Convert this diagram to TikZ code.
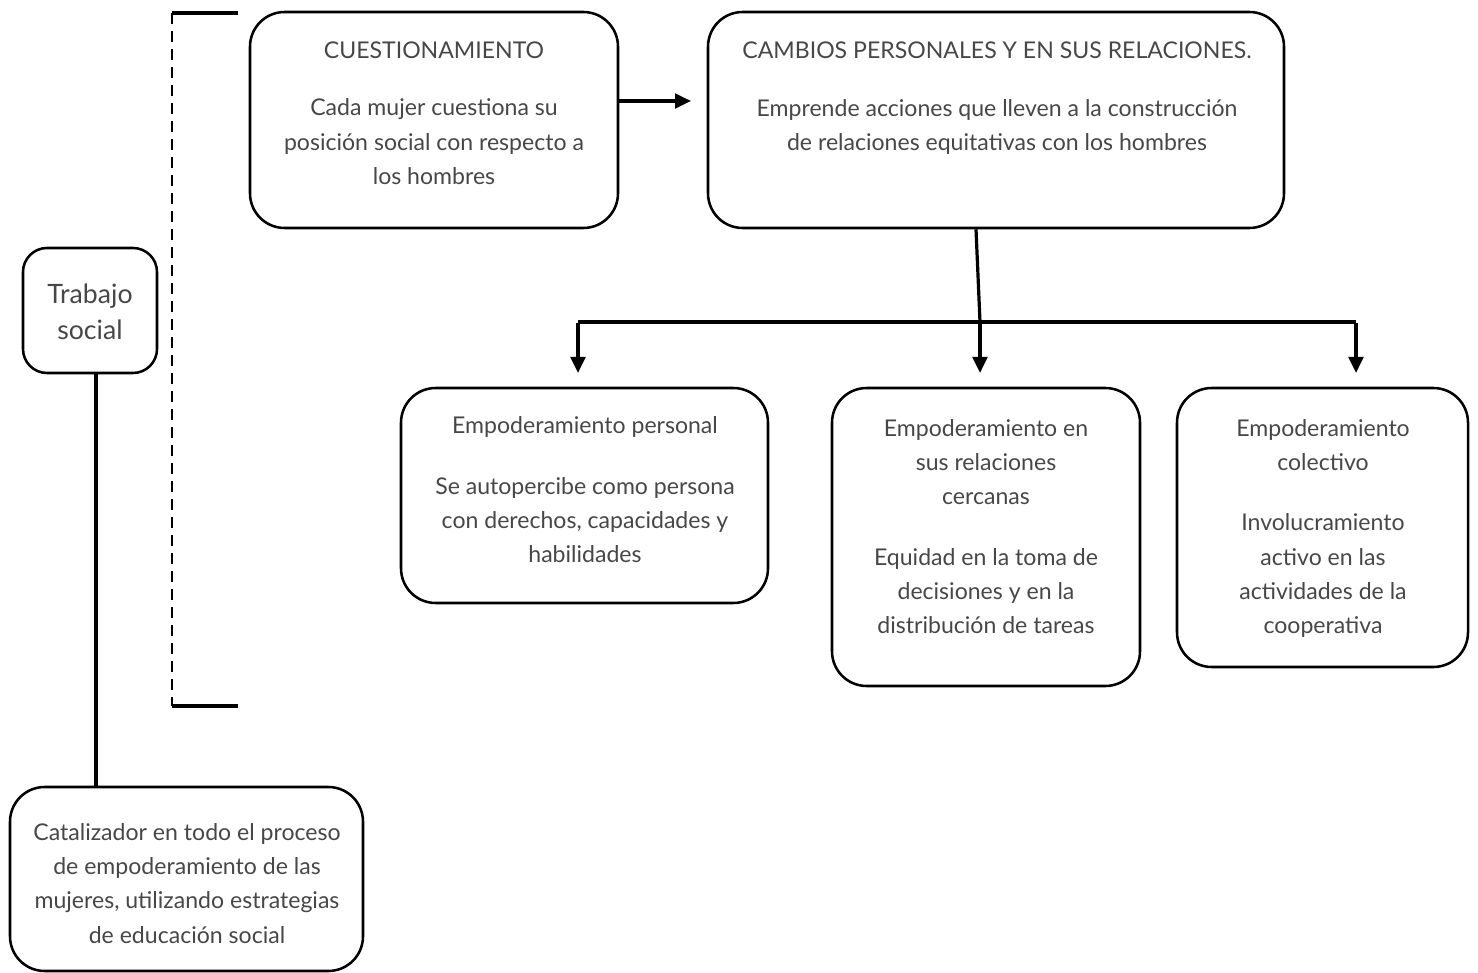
\documentclass[tikz,border=0pt]{standalone}
\usepackage{fontspec}
\setmainfont{Lato}
\usetikzlibrary{arrows.meta}
\begin{document}
\begin{tikzpicture}[x=0.75pt,y=-0.75pt,
  box/.style={draw=black,line width=1.9pt,rounded corners=26pt,inner sep=0pt},
  txt/.style={text=black!72,font=\fontsize{17.3pt}{25.7pt}\selectfont,align=center,inner sep=0pt,anchor=north},
  conn/.style={line width=2.4pt},
  arr/.style={line width=2.4pt,-{Triangle[length=12pt,width=11pt]}},
  ]
\useasboundingbox (0,0) rectangle (1478,973);
% boxes
\node[box,minimum width=368*0.75pt,minimum height=216*0.75pt] (cues) at (434,120) {};
\node[box,minimum width=576*0.75pt,minimum height=216*0.75pt] (camb) at (996,120) {};
\node[box,minimum width=134*0.75pt,minimum height=125*0.75pt,rounded corners=18pt] (ts) at (90,310.5) {};
\node[box,minimum width=353*0.75pt,minimum height=184*0.75pt] (cat) at (186.5,879) {};
\node[box,minimum width=367*0.75pt,minimum height=215*0.75pt] (ep) at (584.5,495.5) {};
\node[box,minimum width=308*0.75pt,minimum height=298*0.75pt] (er) at (986,537) {};
\node[box,minimum width=291*0.75pt,minimum height=279*0.75pt] (ec) at (1322.5,527.5) {};
% texts
\node[txt] (t1) at (434,42) {CUESTIONAMIENTO\\[17pt]Cada mujer cuestiona su\\posición social con respecto a\\los hombres};
\node[txt] (t2) at (997,42) {CAMBIOS PERSONALES Y EN SUS RELACIONES.\\[17.5pt]Emprende acciones que lleven a la construcción\\de relaciones equitativas con los hombres};
\node[txt,font=\fontsize{20pt}{27pt}\selectfont] (t3) at (90,284) {Trabajo\\social};
\node[txt] (t4) at (187,823) {Catalizador en todo el proceso\\de empoderamiento de las\\mujeres, utilizando estrategias\\de educación social};
\node[txt] (t5) at (585,416) {Empoderamiento personal\\[20pt]Se autopercibe como persona\\con derechos, capacidades y\\habilidades};
\node[txt] (t6) at (986,419) {Empoderamiento en\\sus relaciones\\cercanas\\[19.5pt]Equidad en la toma de\\decisiones y en la\\distribución de tareas};
\node[txt] (t7) at (1323,419) {Empoderamiento\\colectivo\\[19.5pt]Involucramiento\\activo en las\\actividades de la\\cooperativa};
% bracket
\coordinate (b1) at (238,13);
\coordinate (b2) at (172,13);
\coordinate (b3) at (172,706);
\coordinate (b4) at (238,706);
\draw[line width=2.6pt] (b1) -- (b2);
\draw[line width=2pt,dash pattern=on 8pt off 5.5pt] (b2) -- (b3);
\draw[line width=2.6pt] (b3) -- (b4);
% arrow cues -> camb
\coordinate (a1) at (691,101);
\draw[arr] (cues.east |- a1) -- (a1);
% tree
\coordinate (bm) at (980,322);
\coordinate (bl) at (578,322);
\coordinate (br) at (1356,322);
\coordinate (el) at (578,373);
\coordinate (em) at (980,373);
\coordinate (er2) at (1356,373);
\draw[conn] (camb.south -| 976,0) -- (bm);
\draw[line width=3.4pt] (bl) -- (br);
\draw[arr] ([yshift=-1pt]bl) -- (el);
\draw[arr] (bm) -- (em);
\draw[arr] ([yshift=-1pt]br) -- (er2);
% trabajo social line
\draw[line width=3.2pt] (ts.south -| 96,0) -- (cat.north -| 96,0);
\end{tikzpicture}
\end{document}
